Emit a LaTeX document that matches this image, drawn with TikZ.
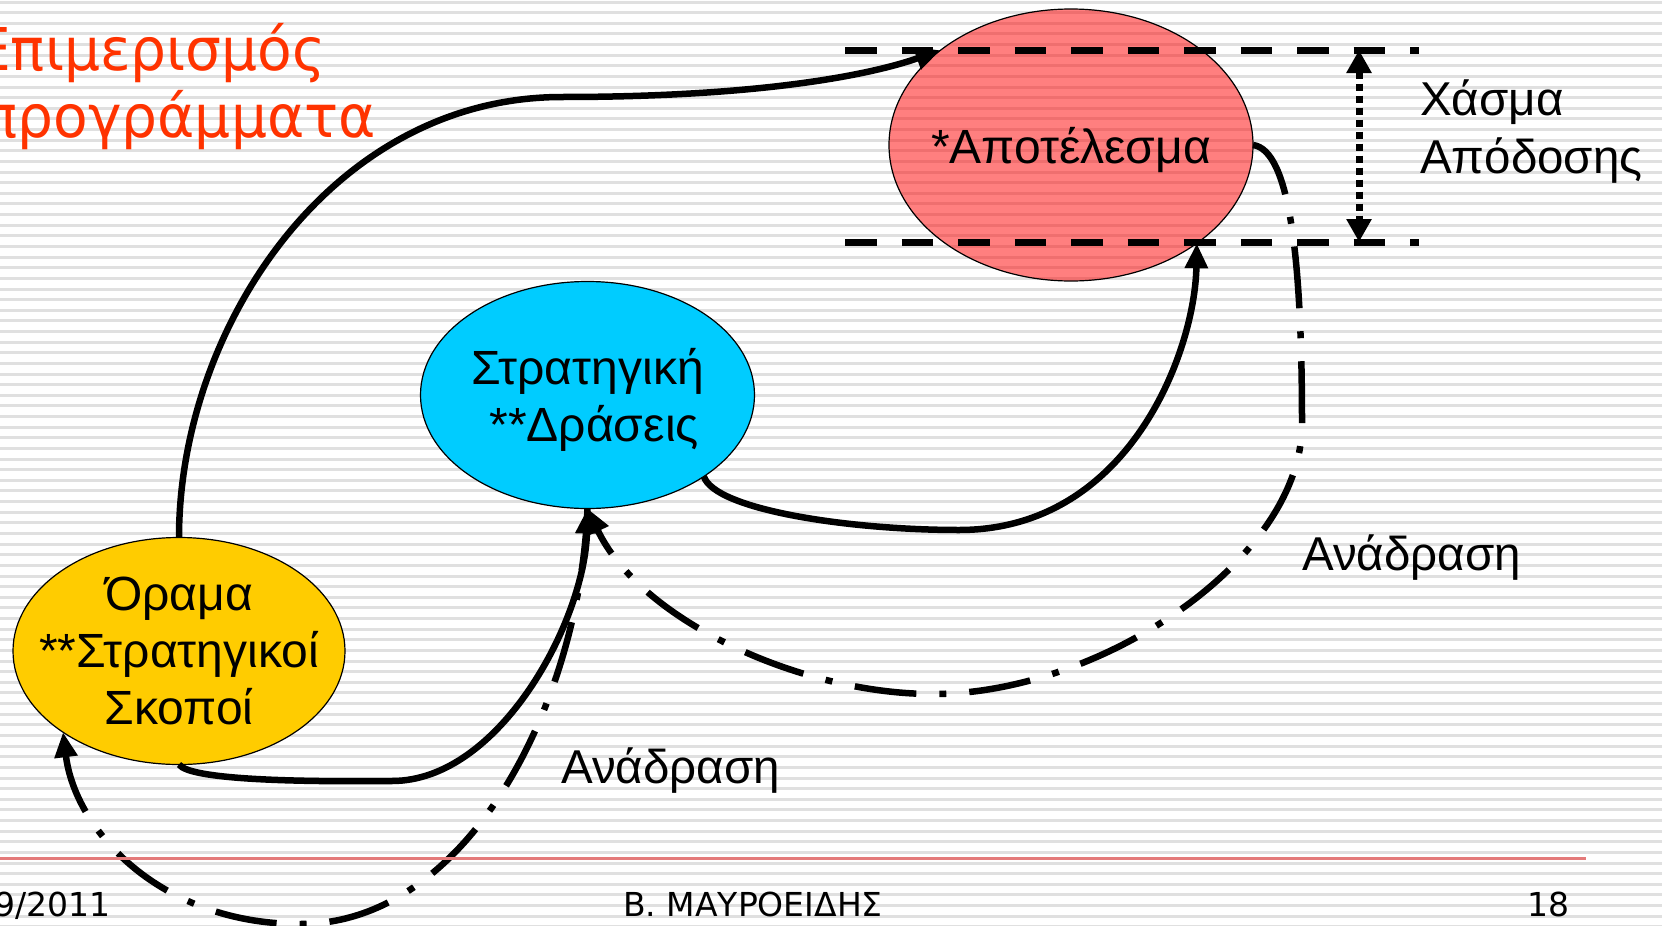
\documentclass[tikz,border=0pt]{standalone}
\usepackage{fontspec}
\setmainfont{Liberation Sans}
\newfontfamily\headfont[FakeStretch=0.96]{DejaVu Sans}
\newfontfamily\footfont{DejaVu Sans}
\usetikzlibrary{shapes.geometric,arrows.meta}
\definecolor{titlered}{HTML}{FF3300}
\definecolor{goalyellow}{HTML}{FFCC00}
\definecolor{actioncyan}{HTML}{00CCFF}
\definecolor{stripegray}{HTML}{E0E0E0}
\definecolor{footred}{HTML}{E47A7A}
\begin{document}
\begin{tikzpicture}[x=1pt,y=1pt,
    oval/.style={ellipse,draw=black,line width=1.2pt,inner sep=-60pt,outer sep=0pt,text depth=0pt,align=center,font=\fontsize{48}{57}\selectfont},
    flow/.style={line width=6.5pt,-{Triangle[length=25pt,width=22pt]}},
    feedback/.style={flow,dash pattern=on 62pt off 23pt on 7pt off 23pt},
    gapline/.style={line width=7pt,dash pattern=on 31.5pt off 25pt},
    note/.style={inner sep=0pt,font=\fontsize{47.5}{58}\selectfont},
    foot/.style={inner sep=0pt,font=\footfont\fontsize{33}{38}\selectfont}]
  \useasboundingbox (0,0) rectangle (1662,-926);
  \fill[white] (0,0) rectangle (1662,-926);
  \foreach \k in {0,...,87}
    \fill[stripegray] (0,{-0.5-\k*10.63}) rectangle ++(1662,-3);
  \node[inner sep=0pt,anchor=base east,text=titlered,font=\headfont\fontsize{59}{67}\selectfont] (title) at (326,-70) {Επιμερισμός};
  \node[inner sep=0pt,anchor=base east,text=titlered,font=\headfont\fontsize{59}{67}\selectfont] (title2) at (376,-137) {προγράμματα};
  \node[oval,fill=red,fill opacity=0.5,text opacity=1,minimum width=364pt,minimum height=272pt] (result) at (1071,-145) {*Αποτέλεσμα};
  \node[oval,fill=actioncyan,minimum width=334pt,minimum height=227pt] (strategy) at (587.5,-395) {Στρατηγική\\\ **Δράσεις};
  \node[oval,fill=goalyellow,minimum width=332pt,minimum height=227pt] (vision) at (179,-651) {Όραμα\\**Στρατηγικοί\\Σκοποί};
  \draw[gapline] (845,-50) -- (1419,-50);
  \draw[gapline] (845,-242) -- (1419,-242);
  \coordinate (gaptop) at (1359,-50);
  \coordinate (gapbot) at (1359,-242);
  \draw[line width=7pt,dash pattern=on 7pt off 5pt,{Triangle[length=23pt,width=24pt]}-{Triangle[length=23pt,width=24pt]}] (gaptop) -- (gapbot);
  \node[note,anchor=base west,align=left] (gaplabel) at (1420,-173) {Χάσμα\\Απόδοσης};
  \draw[flow] (vision.north) .. controls (179,-330) and (330,-97) .. (562,-97) .. controls (760,-97) and (870,-75) .. (result.144);
  \draw[flow] (vision.south) .. controls (190,-780) and (300,-782) .. (392,-781) .. controls (500,-781) and (585,-620) .. (strategy.south);
  \draw[flow] (strategy.-35) .. controls (715,-510) and (850,-530) .. (959,-530) .. controls (1130,-530) and (1195,-350) .. (result.-38);
  \draw[feedback] (result.east) .. controls (1290,-150) and (1302,-260) .. (1302,-424) .. controls (1302,-560) and (1100,-694) .. (933,-694) .. controls (800,-694) and (640,-620) .. (strategy.south);
  \draw[feedback] (strategy.south) .. controls (580,-700) and (470,-924) .. (300,-924) .. controls (160,-924) and (75,-830) .. (vision.215);
  \node[note,anchor=base west] (feedback1) at (1302,-570) {Ανάδραση};
  \node[note,anchor=base west] (feedback2) at (561,-783) {Ανάδραση};
  \draw[footred,line width=3pt] (0,-858) -- (1586,-858);
  \node[foot,anchor=base east] (date) at (111,-916) {9/2011};
  \node[foot,anchor=base] (author) at (753,-916) {Β. ΜΑΥΡΟΕΙΔΗΣ};
  \node[foot,anchor=base] (page) at (1548,-916) {18};
\end{tikzpicture}
\end{document}
